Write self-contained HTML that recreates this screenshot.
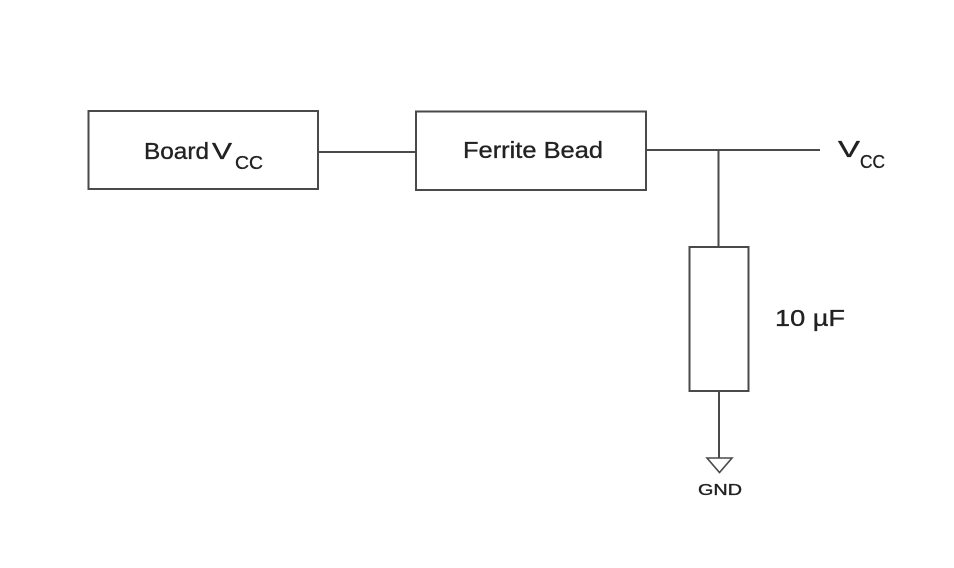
<!DOCTYPE html>
<html><head><meta charset="utf-8"><style>
html,body{margin:0;padding:0;background:#fff;}
svg{display:block;}
text{font-family:"Liberation Sans",Arial,sans-serif;fill:#222;stroke:#222;stroke-width:0.35;}
</style></head><body>
<svg width="954" height="568" viewBox="0 0 954 568" xmlns="http://www.w3.org/2000/svg">
<g fill="none" stroke="#4a4a4a" stroke-width="2">
<rect x="88.5" y="111" width="229.5" height="78"/>
<rect x="416" y="111.5" width="230" height="78.5"/>
<line x1="318" y1="152" x2="416" y2="152"/>
<line x1="646" y1="150" x2="820" y2="150"/>
<line x1="718.5" y1="150" x2="718.5" y2="247"/>
<rect x="689.5" y="247" width="59" height="144"/>
<line x1="719" y1="391" x2="719" y2="458"/>
<polygon points="707,458 732,458 719.5,472.5" stroke-width="1.6"/>
</g>
<text x="144" y="159" font-size="23" textLength="65" lengthAdjust="spacingAndGlyphs">Board</text>
<text x="212" y="159" font-size="23" textLength="20" lengthAdjust="spacingAndGlyphs">V</text>
<text x="235" y="169" font-size="18" textLength="28" lengthAdjust="spacingAndGlyphs">CC</text>
<text x="463" y="158" font-size="23" textLength="140" lengthAdjust="spacingAndGlyphs">Ferrite Bead</text>
<text x="838" y="157" font-size="23" textLength="22" lengthAdjust="spacingAndGlyphs">V</text>
<text x="860" y="168" font-size="18" textLength="25" lengthAdjust="spacingAndGlyphs">CC</text>
<text x="775" y="326" font-size="23" textLength="70" lengthAdjust="spacingAndGlyphs">10 µF</text>
<text x="698" y="495" font-size="16" textLength="44" lengthAdjust="spacingAndGlyphs">GND</text>
</svg>
</body></html>
